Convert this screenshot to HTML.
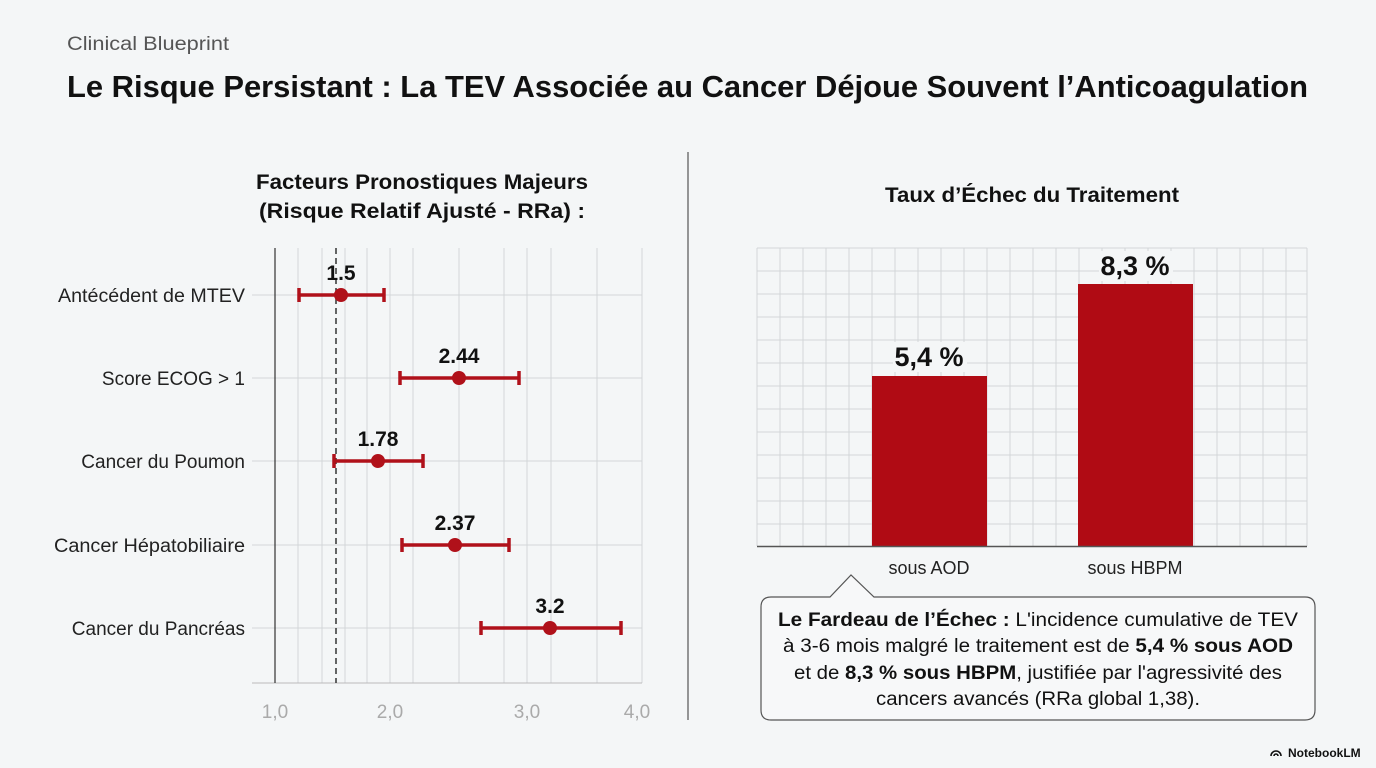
<!DOCTYPE html>
<html><head><meta charset="utf-8"><style>
html,body{margin:0;padding:0;background:#f4f6f7;}
svg{display:block;font-family:"Liberation Sans",sans-serif;}
</style></head><body>
<svg width="1376" height="768" viewBox="0 0 1376 768" xmlns="http://www.w3.org/2000/svg">
<rect width="1376" height="768" fill="#f4f6f7"/>
<text x="67" y="50" font-size="19" fill="#555" textLength="162" lengthAdjust="spacingAndGlyphs">Clinical Blueprint</text>
<text x="67" y="97" font-size="31" font-weight="bold" fill="#111" textLength="1241" lengthAdjust="spacingAndGlyphs">Le Risque Persistant : La TEV Associée au Cancer Déjoue Souvent l’Anticoagulation</text>
<line x1="688" y1="152" x2="688" y2="720" stroke="#555" stroke-width="1.2"/>
<text x="422" y="189" font-size="21" font-weight="bold" fill="#111" text-anchor="middle" textLength="332" lengthAdjust="spacingAndGlyphs">Facteurs Pronostiques Majeurs</text>
<text x="422" y="218" font-size="21" font-weight="bold" fill="#111" text-anchor="middle" textLength="326" lengthAdjust="spacingAndGlyphs">(Risque Relatif Ajusté - RRa) :</text>
<g stroke="#d3d6d9" stroke-width="1">
<line x1="298" y1="248" x2="298" y2="683"/><line x1="322" y1="248" x2="322" y2="683"/><line x1="345" y1="248" x2="345" y2="683"/><line x1="367" y1="248" x2="367" y2="683"/><line x1="390" y1="248" x2="390" y2="683"/><line x1="413" y1="248" x2="413" y2="683"/><line x1="459" y1="248" x2="459" y2="683"/><line x1="504" y1="248" x2="504" y2="683"/><line x1="527" y1="248" x2="527" y2="683"/><line x1="551" y1="248" x2="551" y2="683"/><line x1="597" y1="248" x2="597" y2="683"/><line x1="642" y1="248" x2="642" y2="683"/>
<line x1="252" y1="295" x2="642" y2="295"/><line x1="252" y1="378" x2="642" y2="378"/><line x1="252" y1="461" x2="642" y2="461"/><line x1="252" y1="545" x2="642" y2="545"/><line x1="252" y1="628" x2="642" y2="628"/>
</g>
<line x1="252" y1="683" x2="642" y2="683" stroke="#bbb"/>
<line x1="275" y1="248" x2="275" y2="683" stroke="#333" stroke-width="1.2"/>
<line x1="336" y1="248" x2="336" y2="683" stroke="#333" stroke-width="1.5" stroke-dasharray="6,4"/>
<g font-size="19" fill="#222" text-anchor="end">
<text x="245" y="302" textLength="187" lengthAdjust="spacingAndGlyphs">Antécédent de MTEV</text><text x="245" y="385">Score ECOG &gt; 1</text><text x="245" y="468">Cancer du Poumon</text><text x="245" y="552" textLength="191" lengthAdjust="spacingAndGlyphs">Cancer Hépatobiliaire</text><text x="245" y="635">Cancer du Pancréas</text>
</g>
<g font-size="19" fill="#aaa" text-anchor="middle">
<text x="275" y="718">1,0</text><text x="390" y="718">2,0</text><text x="527" y="718">3,0</text><text x="637" y="718">4,0</text>
</g>
<g stroke="#b0111a" stroke-width="3.5" fill="#b0111a">
<line x1="299" y1="295" x2="384" y2="295"/><line x1="299" y1="288" x2="299" y2="302"/><line x1="384" y1="288" x2="384" y2="302"/><circle cx="341" cy="295" r="7" stroke="none"/>
<line x1="400" y1="378" x2="519" y2="378"/><line x1="400" y1="371" x2="400" y2="385"/><line x1="519" y1="371" x2="519" y2="385"/><circle cx="459" cy="378" r="7" stroke="none"/>
<line x1="334" y1="461" x2="423" y2="461"/><line x1="334" y1="454" x2="334" y2="468"/><line x1="423" y1="454" x2="423" y2="468"/><circle cx="378" cy="461" r="7" stroke="none"/>
<line x1="402" y1="545" x2="509" y2="545"/><line x1="402" y1="538" x2="402" y2="552"/><line x1="509" y1="538" x2="509" y2="552"/><circle cx="455" cy="545" r="7" stroke="none"/>
<line x1="481" y1="628" x2="621" y2="628"/><line x1="481" y1="621" x2="481" y2="635"/><line x1="621" y1="621" x2="621" y2="635"/><circle cx="550" cy="628" r="7" stroke="none"/>
</g>
<g font-size="21" font-weight="bold" fill="#111" text-anchor="middle">
<text x="341" y="280">1.5</text><text x="459" y="363">2.44</text><text x="378" y="446">1.78</text><text x="455" y="530">2.37</text><text x="550" y="613">3.2</text>
</g>
<text x="1032" y="202" font-size="21" font-weight="bold" fill="#111" text-anchor="middle" textLength="294" lengthAdjust="spacingAndGlyphs">Taux d’Échec du Traitement</text>
<g stroke="#d3d6d9" stroke-width="1">
<line x1="757" y1="248" x2="757" y2="546"/><line x1="780" y1="248" x2="780" y2="546"/><line x1="803" y1="248" x2="803" y2="546"/><line x1="826" y1="248" x2="826" y2="546"/><line x1="849" y1="248" x2="849" y2="546"/><line x1="872" y1="248" x2="872" y2="546"/><line x1="895" y1="248" x2="895" y2="546"/><line x1="918" y1="248" x2="918" y2="546"/><line x1="941" y1="248" x2="941" y2="546"/><line x1="964" y1="248" x2="964" y2="546"/><line x1="987" y1="248" x2="987" y2="546"/><line x1="1010" y1="248" x2="1010" y2="546"/><line x1="1033" y1="248" x2="1033" y2="546"/><line x1="1056" y1="248" x2="1056" y2="546"/><line x1="1079" y1="248" x2="1079" y2="546"/><line x1="1102" y1="248" x2="1102" y2="546"/><line x1="1125" y1="248" x2="1125" y2="546"/><line x1="1148" y1="248" x2="1148" y2="546"/><line x1="1171" y1="248" x2="1171" y2="546"/><line x1="1194" y1="248" x2="1194" y2="546"/><line x1="1217" y1="248" x2="1217" y2="546"/><line x1="1240" y1="248" x2="1240" y2="546"/><line x1="1263" y1="248" x2="1263" y2="546"/><line x1="1286" y1="248" x2="1286" y2="546"/><line x1="1307" y1="248" x2="1307" y2="546"/>
<line x1="757" y1="248" x2="1307" y2="248"/><line x1="757" y1="271" x2="1307" y2="271"/><line x1="757" y1="294" x2="1307" y2="294"/><line x1="757" y1="317" x2="1307" y2="317"/><line x1="757" y1="340" x2="1307" y2="340"/><line x1="757" y1="363" x2="1307" y2="363"/><line x1="757" y1="386" x2="1307" y2="386"/><line x1="757" y1="409" x2="1307" y2="409"/><line x1="757" y1="432" x2="1307" y2="432"/><line x1="757" y1="455" x2="1307" y2="455"/><line x1="757" y1="478" x2="1307" y2="478"/><line x1="757" y1="501" x2="1307" y2="501"/><line x1="757" y1="524" x2="1307" y2="524"/>
</g>
<rect x="872" y="376" width="115" height="170" fill="#b00b14"/>
<rect x="1078" y="284" width="115" height="262" fill="#b00b14"/>
<line x1="757" y1="546.5" x2="1307" y2="546.5" stroke="#555" stroke-width="1.5"/>
<rect x="893" y="342" width="74" height="30" fill="#f4f6f7"/>
<rect x="1099" y="251" width="74" height="30" fill="#f4f6f7"/>
<text x="929" y="366" font-size="27" font-weight="bold" fill="#111" text-anchor="middle">5,4 %</text>
<text x="1135" y="275" font-size="27" font-weight="bold" fill="#111" text-anchor="middle">8,3 %</text>
<text x="929" y="574" font-size="18" fill="#222" text-anchor="middle">sous AOD</text>
<text x="1135" y="574" font-size="18" fill="#222" text-anchor="middle">sous HBPM</text>
<path d="M771 597 L830 597 L851 575 L874 597 L1305 597 Q1315 597 1315 607 L1315 710 Q1315 720 1305 720 L771 720 Q761 720 761 710 L761 607 Q761 597 771 597 Z" fill="#f7f8f9" stroke="#555" stroke-width="1.2"/>
<g font-size="19" fill="#111" text-anchor="middle">
<text x="1038" y="626" textLength="520" lengthAdjust="spacingAndGlyphs"><tspan font-weight="bold">Le Fardeau de l’Échec :</tspan> L'incidence cumulative de TEV</text>
<text x="1038" y="652" textLength="510" lengthAdjust="spacingAndGlyphs">à 3-6 mois malgré le traitement est de <tspan font-weight="bold">5,4 % sous AOD</tspan></text>
<text x="1038" y="679" textLength="488" lengthAdjust="spacingAndGlyphs">et de <tspan font-weight="bold">8,3 % sous HBPM</tspan>, justifiée par l'agressivité des</text>
<text x="1038" y="705" textLength="324" lengthAdjust="spacingAndGlyphs">cancers avancés (RRa global 1,38).</text>
</g>
<text x="1288" y="757" font-size="12" font-weight="bold" fill="#111">NotebookLM</text>
<path d="M1271 756 a5 5 0 0 1 10 0 M1274 756 a2 2 0 0 1 4 0" stroke="#111" stroke-width="1.6" fill="none"/>
</svg>
</body></html>
